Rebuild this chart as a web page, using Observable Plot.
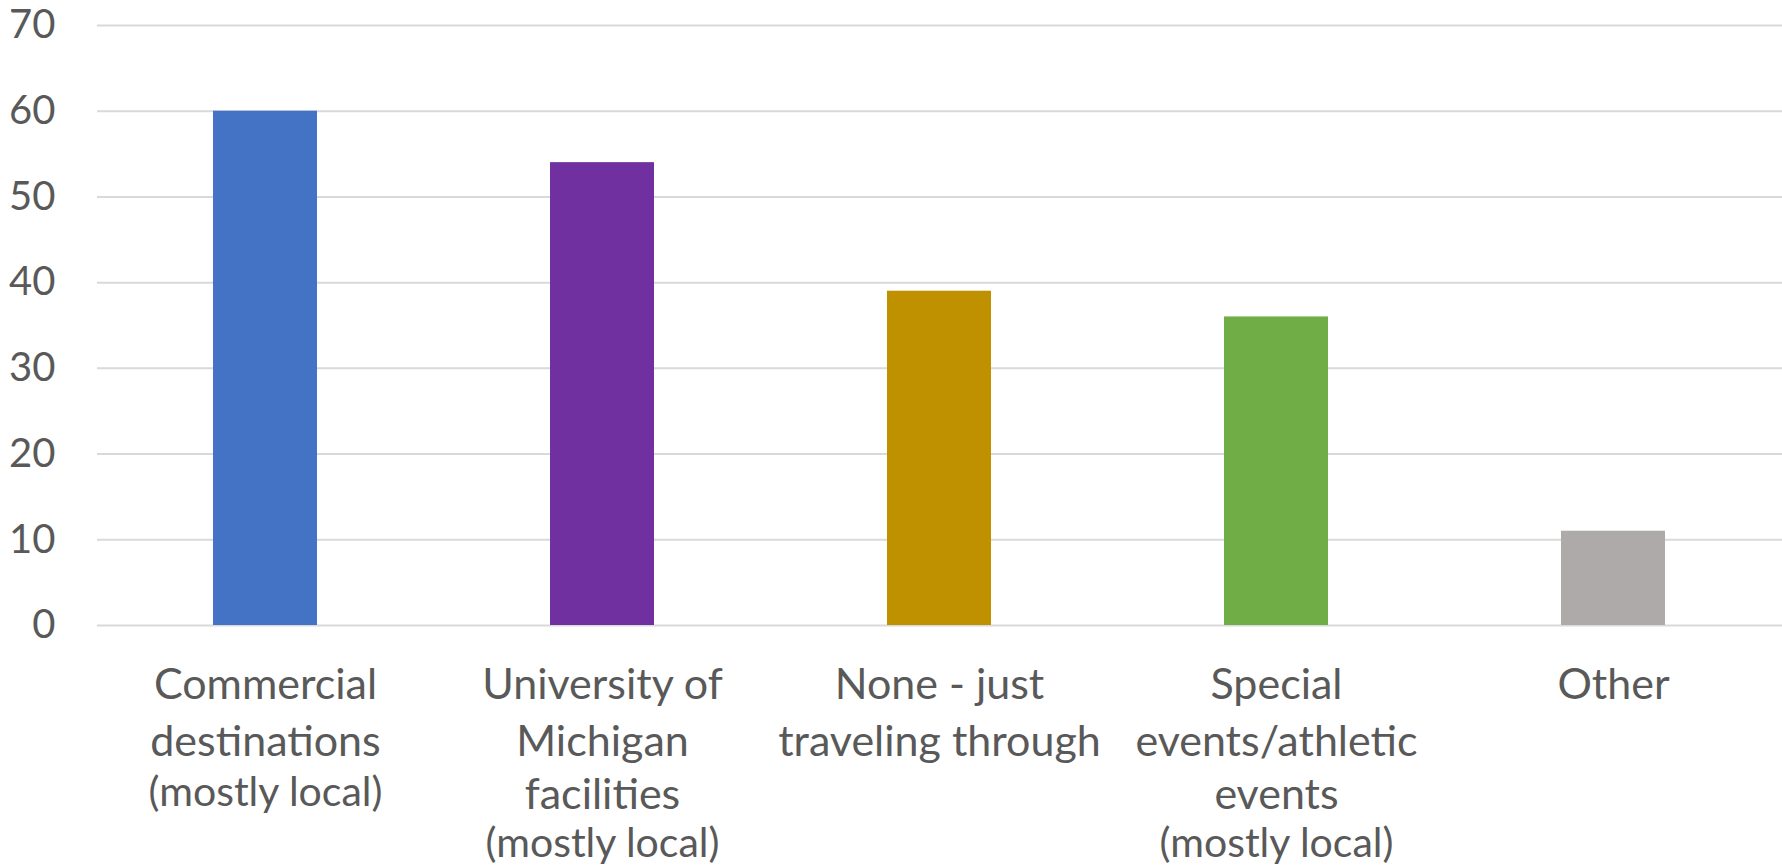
<!DOCTYPE html>
<html>
<head>
<meta charset="utf-8">
<script src="https://cdn.jsdelivr.net/npm/d3@7"></script>
<script src="https://cdn.jsdelivr.net/npm/@observablehq/plot@0.6"></script>
<style>
  html, body { margin: 0; padding: 0; background: #fff; }
  #chart svg { display: block; }
</style>
</head>
<body>
<div id="chart"></div>
<script>
const categories = [
  "Commercial destinations (mostly local)",
  "University of Michigan facilities (mostly local)",
  "None - just traveling through",
  "Special events/athletic events (mostly local)",
  "Other"
];
const values = [60, 54, 39, 36, 11];
const colors = ["#4472C4", "#7030A0", "#BF9000", "#70AD47", "#AEAAAA"];
const labelLines = [
  ["Commercial", "destinations", "(mostly local)"],
  ["University of", "Michigan", "facilities", "(mostly local)"],
  ["None - just", "traveling through"],
  ["Special", "events/athletic", "events", "(mostly local)"],
  ["Other"]
];
const yTicks = [0, 10, 20, 30, 40, 50, 60, 70];

const data = categories.map((c, i) => ({cat: c, value: values[i], color: colors[i]}));

// label rows, grouped by vertical offset
const lineOffsets = [60, 117, 170];
const rows = [];
labelLines.forEach((lines, ci) => {
  lines.forEach((t, li) => {
    const local = t.startsWith("(");
    const dy = local ? (li === 2 ? 167 : 218) : lineOffsets[li];
    rows.push({cat: categories[ci], text: t, dy, local});
  });
});
const groups = d3.groups(rows, r => r.dy);

const textColor = "#595959";

const chart = Plot.plot({
  width: 1782,
  height: 865,
  marginLeft: 97,
  marginRight: 0,
  marginTop: 25,
  marginBottom: 240,
  style: {fontFamily: "Lato, 'Open Sans', sans-serif", background: "#fff"},
  x: {domain: categories, paddingInner: 0.69, paddingOuter: 0.345, axis: null},
  y: {domain: [0, 70], axis: null},
  color: {type: "identity"},
  marks: [
    Plot.gridY(yTicks, {stroke: "#d9d9d9", strokeOpacity: 1, strokeWidth: 2}),
    Plot.barY(data, {x: "cat", y: "value", fill: "color"}),
    Plot.axisY(yTicks, {tickSize: 0, tickPadding: 42, fontSize: 40, color: textColor, label: null}),
    ...groups.map(([dy, rs]) =>
      Plot.text(rs, {
        x: "cat",
        text: "text",
        frameAnchor: "bottom",
        dy: dy,
        lineAnchor: "middle",
        textAnchor: "middle",
        fontSize: rs[0].local ? 41 : 43,
        fill: textColor
      })
    )
  ]
});
document.getElementById("chart").appendChild(chart);
</script>
</body>
</html>
